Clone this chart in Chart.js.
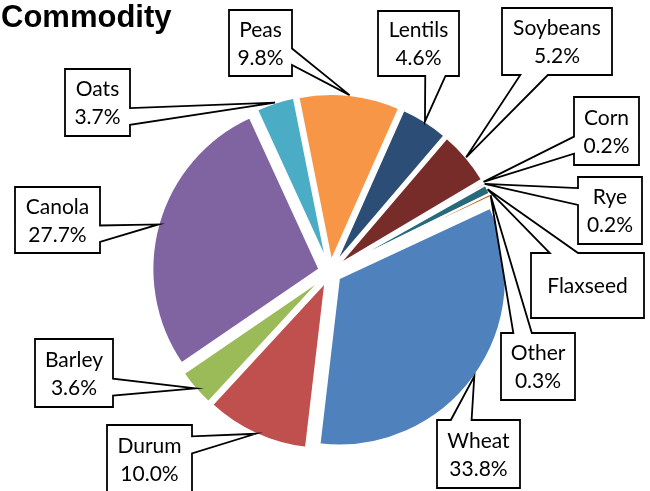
<!DOCTYPE html>
<html>
<head>
<meta charset="utf-8">
<script src="https://cdn.jsdelivr.net/npm/chart.js@4.4.0/dist/chart.umd.min.js"></script>
<style>
  html, body { margin: 0; padding: 0; background: #fff; }
</style>
</head>
<body>
<canvas id="chartCanvas" width="650" height="491"></canvas>
<script>
// Chart data
const chartTitle = 'Commodity';
const commodities = ['Wheat', 'Durum', 'Barley', 'Canola', 'Oats', 'Peas', 'Lentils', 'Soybeans', 'Corn', 'Rye', 'Flaxseed', 'Other'];
const shares = [33.8, 10.0, 3.6, 27.7, 3.7, 9.8, 4.6, 5.2, 0.2, 0.2, 0.9, 0.3];
// labels shown without a percentage
const nameOnly = ['Flaxseed'];

const sliceColors = ['#4F81BD', '#C0504D', '#9BBB59', '#8064A2', '#4BACC6', '#F79646',
                     '#2C4D75', '#772C2A', '#5F7530', '#4D3B62', '#276A7C', '#B65708'];

// callout boxes: x, y, width, height (screen layout)
const calloutBoxes = {
    Wheat:    [437, 420, 83, 68],
    Durum:    [107, 425, 85, 68],
    Barley:   [35, 339, 78, 68],
    Canola:   [15, 187, 85, 66],
    Oats:     [65, 69, 65, 67],
    Peas:     [229, 10, 63, 66],
    Lentils:  [378, 11, 81, 65],
    Soybeans: [502, 8, 110, 67],
    Corn:     [574, 97, 65, 68],
    Rye:      [578, 177, 64, 67],
    Flaxseed: [531, 253, 113, 65],
    Other:    [501, 333, 74, 67]
};

const EXPLODE = 11;
const labelFont = '21px Lato';
const LINE_PITCH = 28;
const CAP = 15;

// Exploded slices: each arc is moved out along its own mid angle
const explodePlugin = {
    id: 'explode',
    beforeDatasetsDraw(chart) {
        const ctx = chart.ctx;
        chart.getDatasetMeta(0).data.forEach(arc => {
            const mid = (arc.startAngle + arc.endAngle) / 2;
            ctx.save();
            ctx.translate(Math.cos(mid) * EXPLODE, Math.sin(mid) * EXPLODE);
            arc.draw(ctx);
            ctx.restore();
        });
        return false;
    }
};

// Rectangle callout with a wedge pointing at (tx, ty)
function drawCallout(ctx, x, y, w, h, tx, ty) {
    const hc = x + w / 2, vc = y + h / 2;
    const dxPos = tx - hc, dyPos = ty - vc;
    ctx.beginPath();
    if (Math.abs(dxPos * h) > Math.abs(dyPos * w)) {
        const y1 = y + h * (dyPos > 0 ? 7 : 2) / 12;
        const y2 = y + h * (dyPos > 0 ? 10 : 5) / 12;
        if (dxPos > 0) {
            ctx.moveTo(x, y); ctx.lineTo(x + w, y); ctx.lineTo(x + w, y1);
            ctx.lineTo(tx, ty); ctx.lineTo(x + w, y2);
            ctx.lineTo(x + w, y + h); ctx.lineTo(x, y + h);
        } else {
            ctx.moveTo(x, y); ctx.lineTo(x + w, y); ctx.lineTo(x + w, y + h);
            ctx.lineTo(x, y + h); ctx.lineTo(x, y2);
            ctx.lineTo(tx, ty); ctx.lineTo(x, y1);
        }
    } else {
        const x1 = x + w * (dxPos > 0 ? 7 : 2) / 12;
        const x2 = x + w * (dxPos > 0 ? 10 : 5) / 12;
        if (dyPos > 0) {
            ctx.moveTo(x, y); ctx.lineTo(x + w, y); ctx.lineTo(x + w, y + h);
            ctx.lineTo(x2, y + h); ctx.lineTo(tx, ty); ctx.lineTo(x1, y + h);
            ctx.lineTo(x, y + h);
        } else {
            ctx.moveTo(x, y); ctx.lineTo(x1, y); ctx.lineTo(tx, ty); ctx.lineTo(x2, y);
            ctx.lineTo(x + w, y); ctx.lineTo(x + w, y + h); ctx.lineTo(x, y + h);
        }
    }
    ctx.closePath();
    ctx.fillStyle = '#fff';
    ctx.fill();
    ctx.strokeStyle = '#000';
    ctx.lineWidth = 1.8;
    ctx.lineJoin = 'miter';
    ctx.stroke();
}

const calloutPlugin = {
    id: 'callouts',
    afterDraw(chart) {
        const ctx = chart.ctx;
        const meta = chart.getDatasetMeta(0);
        ctx.save();
        meta.data.forEach((arc, i) => {
            const name = chart.data.labels[i];
            const box = calloutBoxes[name];
            if (!box) return;
            const mid = (arc.startAngle + arc.endAngle) / 2;
            const dist = arc.outerRadius + EXPLODE;
            const tx = arc.x + Math.cos(mid) * dist;
            const ty = arc.y + Math.sin(mid) * dist;
            const [bx, by, bw, bh] = box;
            drawCallout(ctx, bx, by, bw, bh, tx, ty);

            const lines = nameOnly.includes(name)
                ? [name]
                : [name, shares[i].toFixed(1) + '%'];
            ctx.fillStyle = '#000';
            ctx.font = labelFont;
            ctx.textAlign = 'center';
            ctx.textBaseline = 'alphabetic';
            const cx = bx + bw / 2, cy = by + bh / 2;
            lines.forEach((t, k) => {
                const off = (k - (lines.length - 1) / 2) * LINE_PITCH;
                ctx.fillText(t, cx, cy + off + CAP / 2);
            });
        });
        // chart title
        ctx.font = 'bold 31px "Liberation Sans", Arial, sans-serif';
        ctx.textAlign = 'left';
        ctx.fillText(chartTitle, 1, 27);
        ctx.restore();
    }
};

const ctx = document.getElementById('chartCanvas').getContext('2d');
const myChart = new Chart(ctx, {
    type: 'pie',
    data: {
        labels: commodities,
        datasets: [{
            data: shares,
            backgroundColor: sliceColors,
            borderColor: '#fff',
            borderWidth: 2
        }]
    },
    options: {
        responsive: false,
        animation: false,
        events: [],
        rotation: 65,
        radius: 167,
        layout: {
            padding: { left: 10, right: 0, top: 53, bottom: 0 }
        },
        plugins: {
            legend: { display: false },
            tooltip: { enabled: false },
            title: { display: false }
        }
    },
    plugins: [explodePlugin, calloutPlugin]
});
</script>
</body>
</html>
